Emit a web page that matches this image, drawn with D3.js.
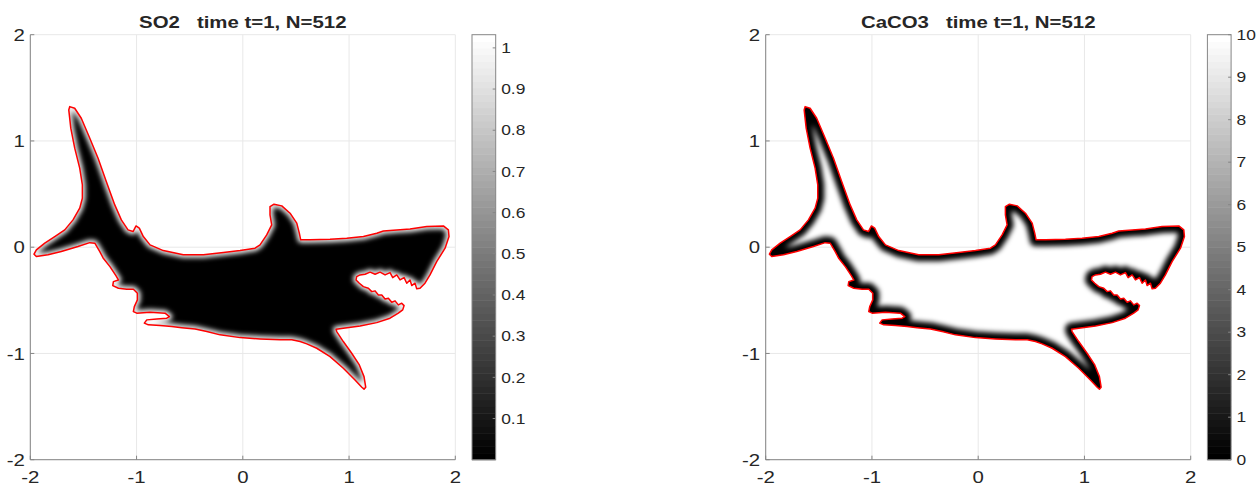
<!DOCTYPE html>
<html>
<head>
<meta charset="utf-8">
<script src="https://cdn.jsdelivr.net/npm/d3@7"></script>
<style>
  body { margin: 0; background: #fff; }
  svg { display: block; }
  text { font-family: "Liberation Sans", Arial, Helvetica, sans-serif; fill: #262626; }
</style>
</head>
<body>
<svg id="chart" width="1259" height="487"></svg>
<script>
// Shark boundary (level-set contour), traced clockwise from the tail tip
const sharkX = [
  -1.629,-1.582,-1.520,-1.440,-1.362,-1.284,-1.205,-1.143,-1.080,-1.033,
  -1.005,-0.974,-0.936,-0.873,-0.748,-0.560,-0.371,-0.183,-0.026,0.115,
  0.162,0.225,0.272,0.256,0.256,0.294,0.367,0.445,0.508,0.532,
  0.545,0.633,0.821,0.978,1.135,1.261,1.323,1.449,1.574,1.731,
  1.888,1.935,1.941,1.904,1.825,1.762,1.715,1.668,1.637,
  1.621,1.590,1.574,1.543,1.518,1.480,1.449,1.411,1.386,1.339,
  1.292,1.245,1.198,1.151,1.104,1.072,1.066,1.097,
  1.135,1.182,1.214,1.245,1.276,1.308,1.339,1.370,1.402,1.433,
  1.464,1.496,1.518,1.505,1.464,1.386,1.261,1.104,0.946,0.878,
  0.884,0.946,1.025,1.097,1.141,1.157,1.141,1.120,1.056,0.946,
  0.821,0.696,0.602,
  0.539,0.461,0.351,0.162,-0.026,-0.214,-0.339,-0.449,-0.575,-0.669,
  -0.779,-0.889,-0.927,-0.904,-0.810,-0.716,-0.691,-0.732,-0.873,-0.998,
  -1.030,-1.021,-0.992,-0.992,-1.030,-1.092,-1.171,-1.224,-1.218,-1.171,
  -1.193,-1.249,-1.315,-1.346,-1.393,-1.440,-1.551,-1.708,-1.833,-1.943,
  -1.965,-1.943,-1.864,-1.770,-1.676,-1.598,-1.535,-1.510,-1.510,-1.535,
  -1.582,-1.619,-1.638
];
const sharkY = [
  1.323,1.308,1.214,1.026,0.838,0.617,0.398,0.257,0.163,0.147,
  0.200,0.179,0.100,0.022,-0.032,-0.072,-0.072,-0.051,-0.032,-0.009,
  0.022,0.116,0.210,0.304,0.382,0.405,0.389,0.320,0.226,0.132,
  0.069,0.069,0.075,0.085,0.100,0.132,0.153,0.163,0.172,0.194,
  0.200,0.163,0.100,-0.009,-0.136,-0.261,-0.339,-0.386,-0.392,
  -0.339,-0.361,-0.308,-0.339,-0.286,-0.308,-0.261,-0.286,-0.239,-0.261,
  -0.235,-0.254,-0.235,-0.254,-0.261,-0.277,-0.308,-0.339,
  -0.371,-0.386,-0.418,-0.411,-0.449,-0.449,-0.487,-0.480,-0.518,-0.505,
  -0.543,-0.527,-0.550,-0.590,-0.621,-0.668,-0.710,-0.741,-0.762,-0.772,
  -0.794,-0.888,-0.998,-1.108,-1.218,-1.318,-1.336,-1.318,-1.249,-1.139,
  -1.030,-0.951,-0.910,
  -0.888,-0.872,-0.872,-0.863,-0.851,-0.825,-0.794,-0.769,-0.757,-0.747,
  -0.738,-0.731,-0.715,-0.684,-0.675,-0.668,-0.653,-0.621,-0.612,-0.621,
  -0.606,-0.559,-0.496,-0.433,-0.395,-0.395,-0.386,-0.361,-0.324,-0.308,
  -0.270,-0.185,-0.101,-0.041,0.038,0.043,0.006,-0.041,-0.072,-0.088,
  -0.066,-0.025,0.038,0.100,0.163,0.257,0.367,0.461,0.586,0.744,
  0.932,1.120,1.292
];

const xTicks = [-2, -1, 0, 1, 2];
const yTicks = [-2, -1, 0, 1, 2];
const so2Ticks = [0.1, 0.2, 0.3, 0.4, 0.5, 0.6, 0.7, 0.8, 0.9, 1];
const caco3Ticks = [0, 1, 2, 3, 4, 5, 6, 7, 8, 9, 10];
const so2Range = [0, 1.032];
const caco3Range = [0, 10];
const titles = ["SO2   time t=1, N=512", "CaCO3   time t=1, N=512"];

const shark = sharkX.map((x, i) => [x, sharkY[i]]);

const svg = d3.select("#chart");
const defs = svg.append("defs");

defs.append("filter")
  .attr("id", "soften")
  .attr("filterUnits", "userSpaceOnUse")
  .attr("x", 0).attr("y", 0).attr("width", 1259).attr("height", 487)
  .attr("color-interpolation-filters", "sRGB")
  .append("feGaussianBlur").attr("stdDeviation", 2.6);

const panels = [
  { left: 30.3, title: titles[0], range: so2Range, ticks: so2Ticks, fmt: d3.format(".1~f"),
    inside: "#000", edge: "#fff", edgeWidth: 6 },
  { left: 765.7, title: titles[1], range: caco3Range, ticks: caco3Ticks, fmt: d3.format("d"),
    inside: "#fff", edge: "#000", edgeWidth: 13 }
];

const axTop = 34.7, axSize = 425;
const gridColor = "#e8e8e8", axisColor = "#858585";
const stretch = 1.2; // glyphs are drawn slightly wide

// place a text label at (px, py) with the wide glyph style
function place(sel, px, py) {
  sel.attr("transform", (d, i) =>
    `translate(${typeof px === "function" ? px(d, i) : px},${typeof py === "function" ? py(d, i) : py}) scale(${stretch},1)`);
  return sel;
}

panels.forEach((p, k) => {
  const x = d3.scaleLinear().domain([-2, 2]).range([p.left, p.left + axSize]);
  const y = d3.scaleLinear().domain([-2, 2]).range([axTop + axSize, axTop]);
  const line = d3.line().x(d => x(d[0])).y(d => y(d[1])).curve(d3.curveLinearClosed);
  const g = svg.append("g");

  // grid
  g.append("g").selectAll("line").data(xTicks).join("line")
    .attr("x1", d => x(d)).attr("x2", d => x(d))
    .attr("y1", axTop).attr("y2", axTop + axSize)
    .attr("stroke", gridColor).attr("stroke-width", 1);
  g.append("g").selectAll("line").data(yTicks).join("line")
    .attr("x1", p.left).attr("x2", p.left + axSize)
    .attr("y1", d => y(d)).attr("y2", d => y(d))
    .attr("stroke", gridColor).attr("stroke-width", 1);

  // concentration field inside the shark
  const clipId = "shark-clip-" + k;
  defs.append("clipPath").attr("id", clipId)
    .append("path").attr("d", line(shark));
  const field = g.append("g").attr("clip-path", `url(#${clipId})`);
  field.append("path").attr("d", line(shark)).attr("fill", p.inside);
  field.append("path").attr("d", line(shark))
    .attr("fill", "none").attr("stroke", p.edge)
    .attr("stroke-width", p.edgeWidth).attr("stroke-linejoin", "round")
    .attr("filter", "url(#soften)");

  // zero level-set contour
  g.append("path").attr("d", line(shark))
    .attr("fill", "none").attr("stroke", "#ff0000")
    .attr("stroke-width", 1.5).attr("stroke-linejoin", "round");

  // axes lines
  g.append("line").attr("x1", p.left).attr("x2", p.left)
    .attr("y1", axTop).attr("y2", axTop + axSize).attr("stroke", axisColor);
  g.append("line").attr("x1", p.left).attr("x2", p.left + axSize)
    .attr("y1", axTop + axSize).attr("y2", axTop + axSize).attr("stroke", axisColor);

  // ticks
  g.append("g").selectAll("line").data(xTicks).join("line")
    .attr("x1", d => x(d)).attr("x2", d => x(d))
    .attr("y1", axTop + axSize).attr("y2", axTop + axSize - 4)
    .attr("stroke", axisColor);
  g.append("g").selectAll("line").data(yTicks).join("line")
    .attr("x1", p.left).attr("x2", p.left + 4)
    .attr("y1", d => y(d)).attr("y2", d => y(d))
    .attr("stroke", axisColor);

  // tick labels
  place(g.append("g").selectAll("text").data(xTicks).join("text"), d => x(d), 483.3)
    .attr("text-anchor", "middle").attr("font-size", 17)
    .text(d => d);
  place(g.append("g").selectAll("text").data(yTicks).join("text"), p.left - 5.5, d => y(d))
    .attr("dy", "0.36em")
    .attr("text-anchor", "end").attr("font-size", 17)
    .text(d => d);

  // title
  place(g.append("text"), p.left + axSize / 2, 27.5)
    .attr("text-anchor", "middle").attr("font-size", 17)
    .attr("font-weight", "bold").style("white-space", "pre")
    .attr("fill", "#000")
    .text(p.title);

  // colorbar
  const cbX = p.left + 441.7, cbW = 23.7;
  const c = d3.scaleLinear().domain(p.range).range([axTop + axSize, axTop]);
  const levels = d3.range(64);
  const shade = d3.scaleLinear().domain([0, 63]).range(["#000", "#fff"]);
  const step = (p.range[1] - p.range[0]) / 64;
  g.append("g").selectAll("rect").data(levels).join("rect")
    .attr("x", cbX).attr("width", cbW)
    .attr("y", d => c(p.range[0] + (d + 1) * step))
    .attr("height", d => c(p.range[0] + d * step) - c(p.range[0] + (d + 1) * step) + 0.5)
    .attr("fill", d => shade(d));
  g.append("rect").attr("x", cbX).attr("y", axTop).attr("width", cbW).attr("height", axSize)
    .attr("fill", "none").attr("stroke", axisColor);
  g.append("g").selectAll("line").data(p.ticks).join("line")
    .attr("x1", cbX + cbW).attr("x2", cbX + cbW - 3)
    .attr("y1", d => c(d)).attr("y2", d => c(d))
    .attr("stroke", axisColor);
  place(g.append("g").selectAll("text").data(p.ticks).join("text"), cbX + cbW + 5.5, d => c(d))
    .attr("dy", "0.36em").attr("font-size", 14.5)
    .text(d => p.fmt(d));
});
</script>
</body>
</html>
